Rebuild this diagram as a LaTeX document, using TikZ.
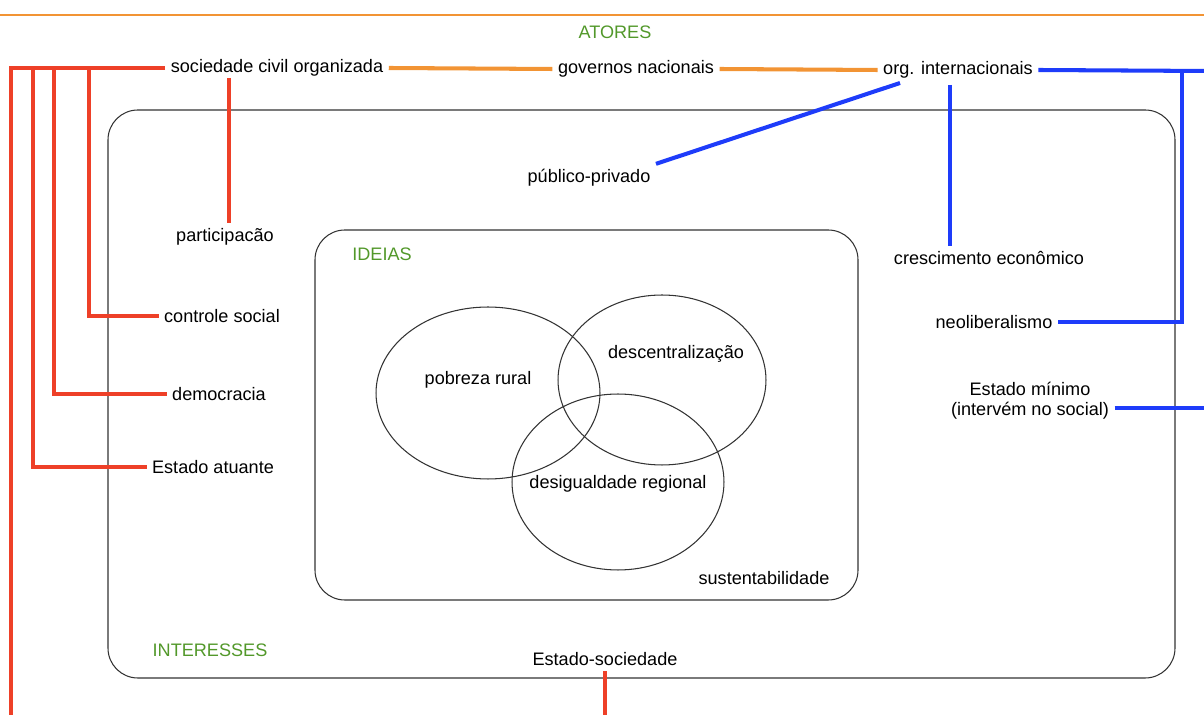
\documentclass[tikz,border=0pt]{standalone}
\usepackage{fontspec}
\setmainfont{Liberation Sans}
\usepackage{tikz}

\definecolor{vermelho}{RGB}{238,64,40}
\definecolor{laranja}{RGB}{242,148,52}
\definecolor{azul}{RGB}{30,60,250}
\definecolor{verde}{RGB}{82,152,42}

\begin{document}
\begin{tikzpicture}[x=0.02cm, y=-0.02cm,
	txt/.style={font=\fontsize{10.3}{11.4}\selectfont, inner sep=3pt, align=center},
	titulo/.style={txt, text=verde},
	redline/.style={draw=vermelho, line width=2.3pt},
	orangeline/.style={draw=laranja, line width=2.3pt},
	blueline/.style={draw=azul, line width=2.3pt},
	moldura/.style={draw=black!80, line width=0.6pt, rounded corners=17pt}]
	
	\useasboundingbox (0,0) rectangle (1204,715);
	
	% molduras
	\draw[draw=laranja, line width=1.1pt] (0,15) -- (1204,15);
	\draw[moldura] (108,110) rectangle (1175,678);
	\draw[moldura] (315,230) rectangle (858,600);
	\draw[line width=0.6pt, draw=black!80] (488,393) ellipse [x radius=2.24cm, y radius=1.72cm];
	\draw[line width=0.6pt, draw=black!80] (662,380) ellipse [x radius=2.08cm, y radius=1.70cm];
	\draw[line width=0.6pt, draw=black!80] (618,482) ellipse [x radius=2.12cm, y radius=1.76cm];
	
	% titulos
	\node[titulo] (atores) at (615, 32) {ATORES};
	\node[titulo] (ideias) at (382, 254) {IDEIAS};
	\node[titulo] (interesses) at (210, 650) {INTERESSES};
	
	% atores
	\node[txt] (soc) at (277, 68)  {sociedade civil organizada};
	\node[txt] (gov) at (636, 69)  {governos nacionais};
	\node[txt] (org) at (958, 70)  {org. internacionais};
	
	% interesses
	\node[txt] (pub)    at (589, 178)  {público-privado};
	\node[txt] (part)   at (225, 237)  {participacão};
	\node[txt] (ctrl)   at (222, 316)  {controle social};
	\node[txt] (demo)   at (219, 394)  {democracia};
	\node[txt] (estat)  at (213, 467)  {Estado atuante};
	\node[txt] (cresc)  at (989, 258)  {crescimento econômico};
	\node[txt] (neo)    at (994, 322)  {neoliberalismo};
	\node[txt] (estmin) at (1030, 401) {Estado mínimo\\(intervém no social)};
	\node[txt] (estsoc) at (605, 659)  {Estado-sociedade};
	
	% ideias
	\node[txt] (pobreza) at (478, 380) {pobreza rural};
	\node[txt] (descent) at (676, 354) {descentralização};
	\node[txt] (desig)   at (618, 484) {desigualdade regional};
	\node[txt] (sust)    at (764, 578) {sustentabilidade};
	
	% pontos livres
	\coordinate (rl) at (11, 68);
	\coordinate (rb) at (11, 718);
	\coordinate (b1) at (33, 68);
	\coordinate (b2) at (54, 68);
	\coordinate (b3) at (89, 68);
	\coordinate (pp) at (229, 78);
	\coordinate (bj) at (1182, 71);
	\coordinate (be) at (1208, 71);
	\coordinate (cr) at (950, 85);
	\coordinate (og) at (900, 83);
	\coordinate (me) at (1208, 408);
	
	\path[orangeline] (soc.east) edge (gov.west);
	\path[orangeline] (gov.east) edge (org.west);
	
	\draw[redline] (soc.west) -- (rl) -- (rb) -| (estsoc.south);
	\draw[redline] (b1) |- (estat.west);
	\draw[redline] (b2) |- (demo.west);
	\draw[redline] (b3) |- (ctrl.west);
	\draw[redline] (pp) -- (pp |- part.north);
	
	\draw[blueline] (org.east) -- (be);
	\draw[blueline] (bj) |- (neo.east);
	\draw[blueline] (cr) -- (cr |- cresc.north);
	\draw[blueline] (og) -- (pub.north east);
	\draw[blueline] (estmin.east |- me) -- (me);
	
\end{tikzpicture}
\end{document}
